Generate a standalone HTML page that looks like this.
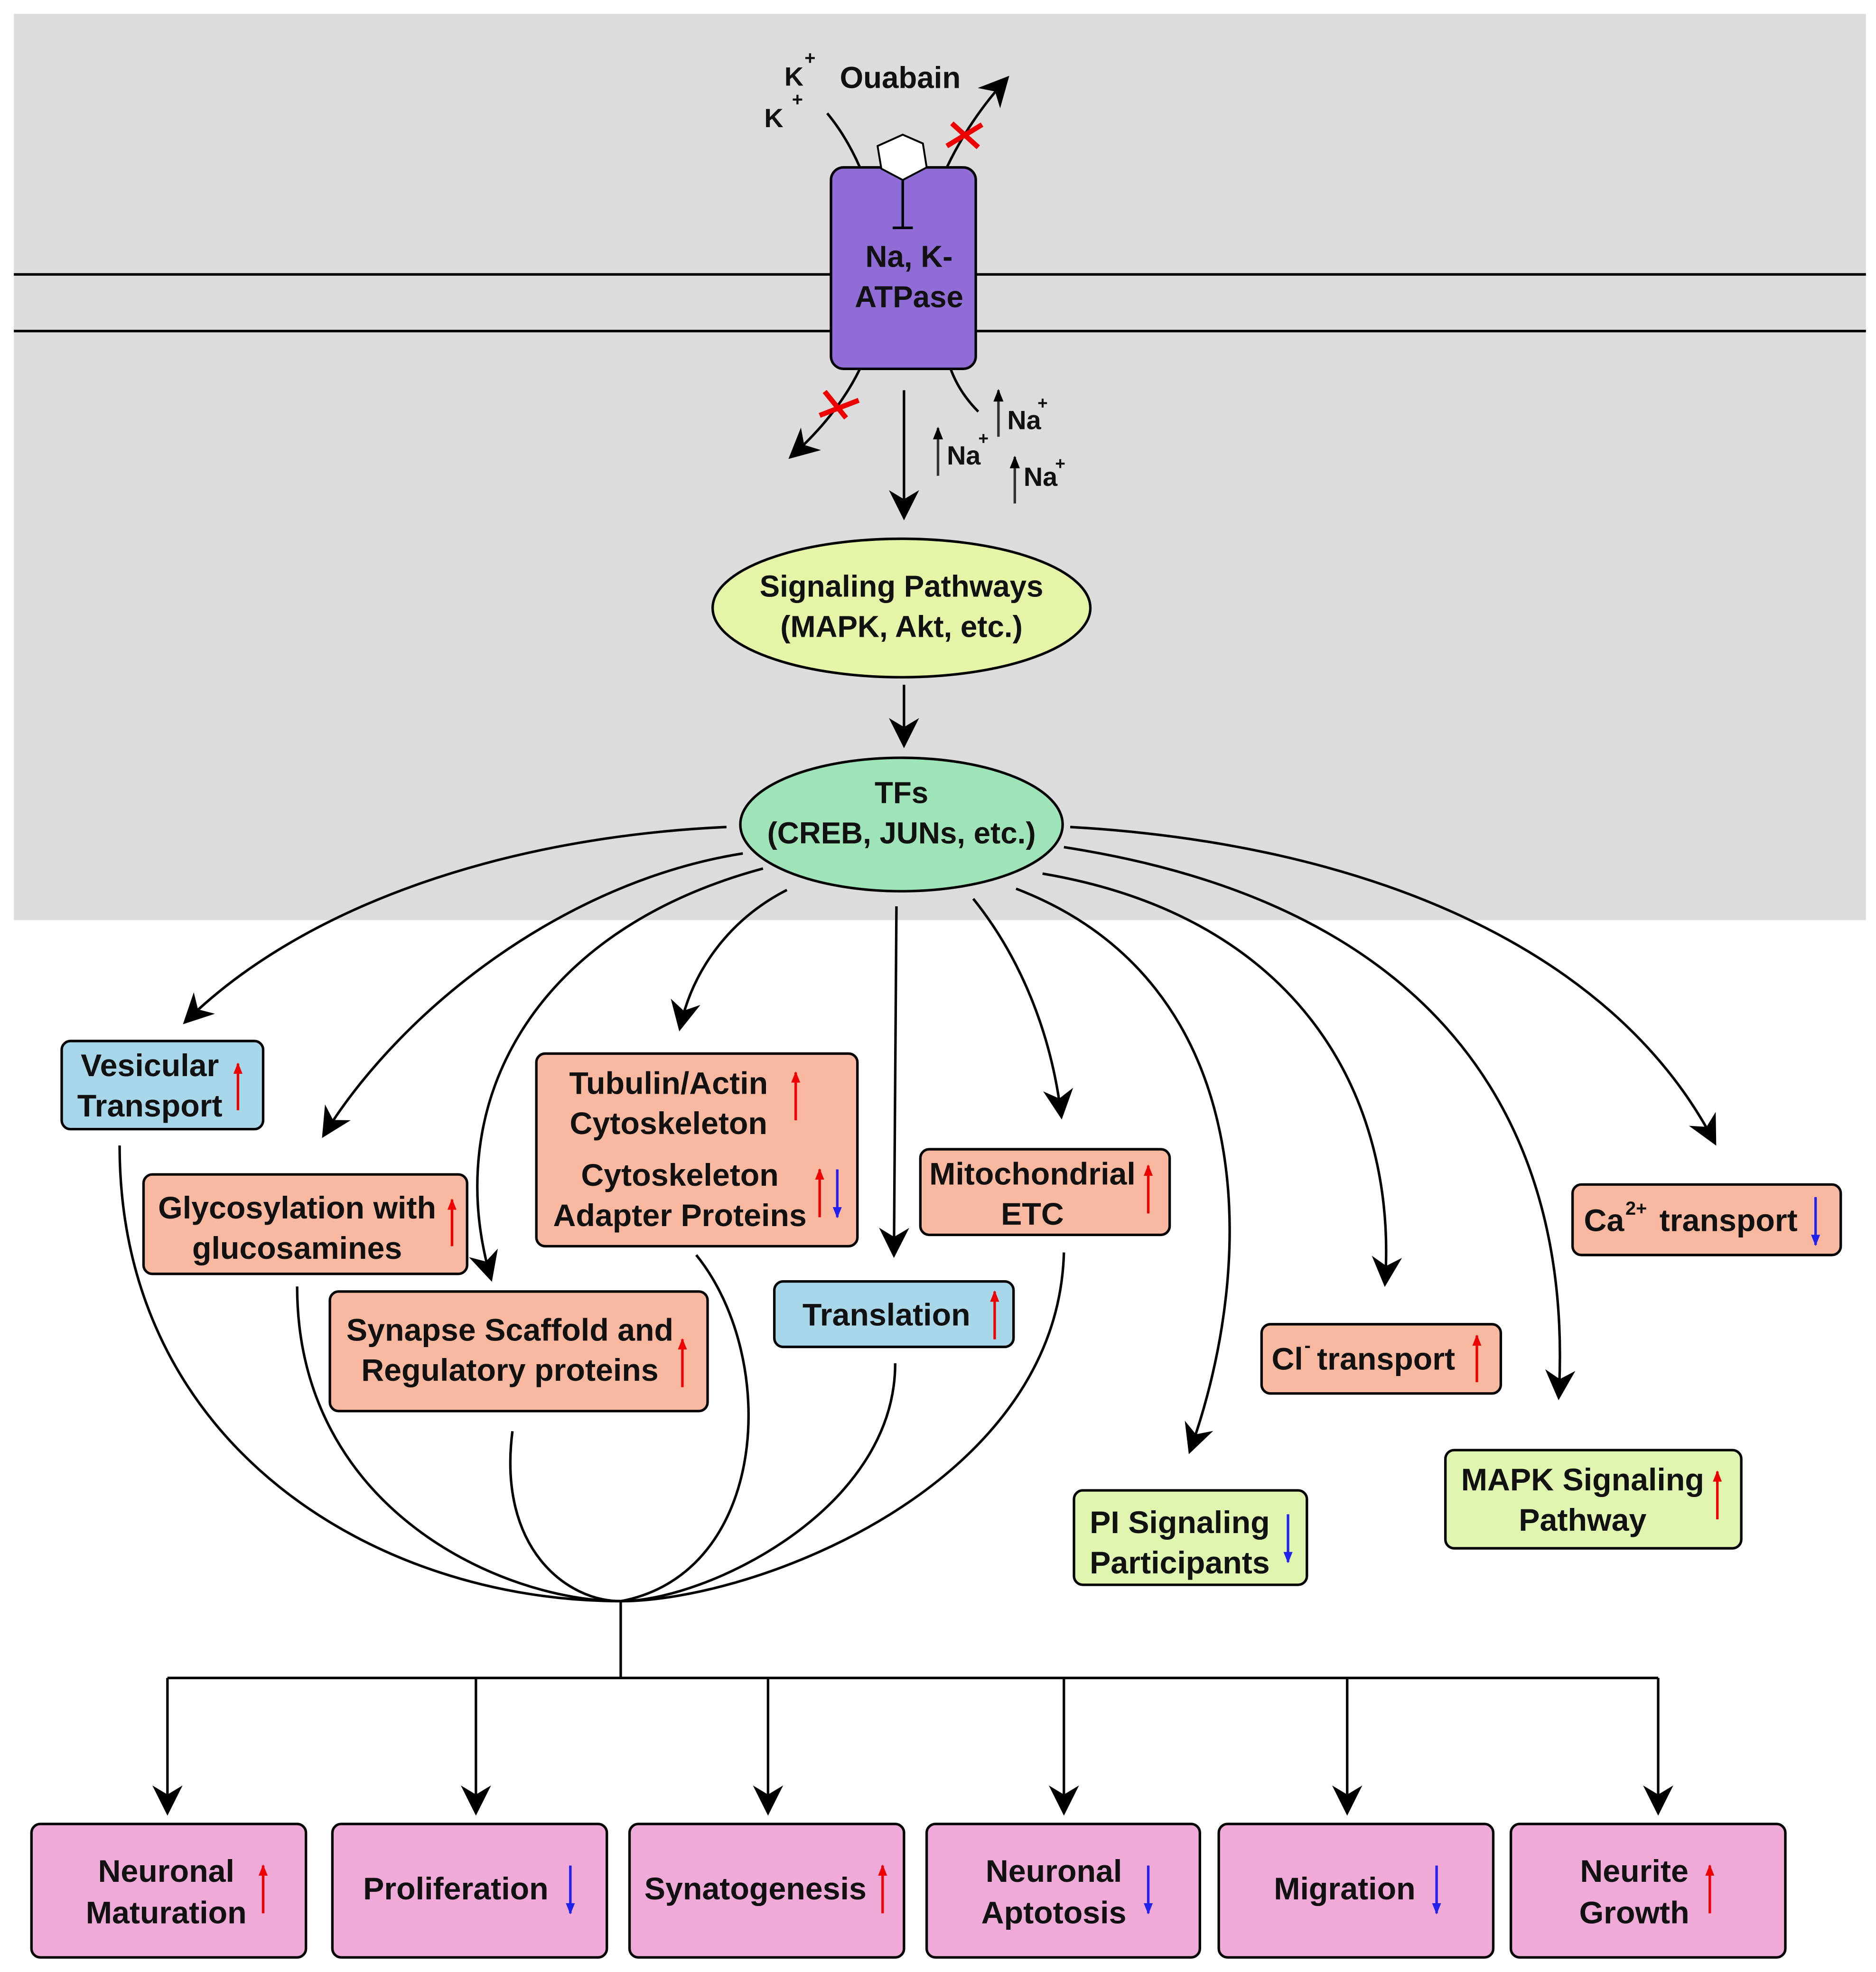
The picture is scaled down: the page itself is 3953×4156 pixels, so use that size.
<!DOCTYPE html>
<html><head><meta charset="utf-8"><style>
html,body{margin:0;padding:0;background:#fff;}
svg{display:block;}
text{font-family:"Liberation Sans",Arial,sans-serif;font-weight:bold;fill:#111;}
</style></head><body>
<svg width="3953" height="4156" viewBox="0 0 1490 1566.6" preserveAspectRatio="none" xmlns="http://www.w3.org/2000/svg">
<defs>
<marker id="ah2" viewBox="0 0 10 10" refX="9" refY="5" markerWidth="24" markerHeight="24" orient="auto" markerUnits="userSpaceOnUse">
<path d="M0,0 L10,5 L0,10 L3,5 z" fill="#000"/></marker>
<marker id="sm" viewBox="0 0 10 10" refX="9" refY="5" markerWidth="10" markerHeight="10" orient="auto" markerUnits="userSpaceOnUse">
<path d="M0,1 L10,5 L0,9 z" fill="#000"/></marker>
<marker id="r" viewBox="0 0 10 10" refX="9" refY="5" markerWidth="9" markerHeight="9" orient="auto" markerUnits="userSpaceOnUse">
<path d="M0,1 L10,5 L0,9 z" fill="#e00"/></marker>
<marker id="b" viewBox="0 0 10 10" refX="9" refY="5" markerWidth="9" markerHeight="9" orient="auto" markerUnits="userSpaceOnUse">
<path d="M0,1 L10,5 L0,9 z" fill="#22e"/></marker>
</defs>
<rect x="0" y="0" width="1490" height="1567" fill="#fff"/>
<rect x="11" y="11" width="1471" height="720" fill="#dcdcdc"/>
<line x1="11" y1="218" x2="1482" y2="218" stroke="#000" stroke-width="2"/>
<line x1="11" y1="263" x2="1482" y2="263" stroke="#000" stroke-width="2"/>
<g fill="none" stroke="#000" stroke-width="2">
<path d="M657,90 Q672,108 683,133"/>
<path d="M752,133 Q770,95 800,62" marker-end="url(#ah2)"/>
<path d="M683,293 Q665,330 628,363" marker-end="url(#ah2)"/>
<path d="M755,293 Q762,312 777,327"/>
</g>
<rect x="660" y="133" width="115" height="160" rx="10" fill="#8f6cd6" stroke="#000" stroke-width="2"/>
<polygon points="717,107 733,114 736,133 717,143 700,134 697,116" fill="#fff" stroke="#000" stroke-width="1.5"/>
<line x1="717" y1="143" x2="717" y2="181" stroke="#000" stroke-width="2"/>
<line x1="709" y1="181" x2="725" y2="181" stroke="#000" stroke-width="2"/>
<text x="722" y="212" font-size="24" text-anchor="middle">Na, K-</text>
<text x="722" y="244" font-size="24" text-anchor="middle">ATPase</text>
<text x="715" y="70" font-size="24" text-anchor="middle">Ouabain</text>
<text x="623" y="68" font-size="21">K</text><text x="639" y="51" font-size="15">+</text>
<text x="607" y="101" font-size="21">K</text><text x="629" y="84" font-size="15">+</text>
<g stroke="#e00" stroke-width="4">
<line x1="756" y1="98" x2="777" y2="117"/><line x1="752" y1="116" x2="780" y2="99"/>
<line x1="655" y1="311" x2="672" y2="332"/><line x1="651" y1="330" x2="682" y2="318"/>
</g>
<g stroke="#333" stroke-width="2" fill="none">
<line x1="793" y1="347" x2="793" y2="310" marker-end="url(#sm)"/>
<line x1="745" y1="378" x2="745" y2="340" marker-end="url(#sm)"/>
<line x1="806" y1="400" x2="806" y2="363" marker-end="url(#sm)"/>
</g>
<text x="800" y="341" font-size="21">Na</text><text x="824" y="325" font-size="14">+</text>
<text x="752" y="369" font-size="21">Na</text><text x="777" y="353" font-size="14">+</text>
<text x="813" y="386" font-size="21">Na</text><text x="838" y="373" font-size="14">+</text>
<line x1="718" y1="310" x2="718" y2="411" stroke="#000" stroke-width="2" marker-end="url(#ah2)"/>
<ellipse cx="716" cy="483" rx="150" ry="55" fill="#e5f5a8" stroke="#000" stroke-width="2"/>
<text x="716" y="474" font-size="24" text-anchor="middle">Signaling Pathways</text>
<text x="716" y="506" font-size="24" text-anchor="middle">(MAPK, Akt, etc.)</text>
<line x1="718" y1="544" x2="718" y2="592" stroke="#000" stroke-width="2" marker-end="url(#ah2)"/>
<ellipse cx="716" cy="655" rx="128" ry="53" fill="#9fe3b8" stroke="#000" stroke-width="2"/>
<text x="716" y="638" font-size="24" text-anchor="middle">TFs</text>
<text x="716" y="670" font-size="24" text-anchor="middle">(CREB, JUNs, etc.)</text>
<g fill="none" stroke="#000" stroke-width="2">
<path d="M577,657 C400,665 240,720 147,812" marker-end="url(#ah2)"/>
<path d="M590,678 C450,700 320,800 257,902" marker-end="url(#ah2)"/>
<path d="M606,690 C420,740 350,880 390,1016" marker-end="url(#ah2)"/>
<path d="M625,707 C580,730 550,770 540,817" marker-end="url(#ah2)"/>
<path d="M712,720 L710,997" marker-end="url(#ah2)"/>
<path d="M773,714 C810,760 835,820 843,887" marker-end="url(#ah2)"/>
<path d="M807,706 C1000,780 1000,1000 945,1153" marker-end="url(#ah2)"/>
<path d="M828,694 C1040,730 1110,880 1100,1020" marker-end="url(#ah2)"/>
<path d="M845,673 C1150,720 1250,900 1238,1110" marker-end="url(#ah2)"/>
<path d="M850,657 C1080,670 1280,750 1362,908" marker-end="url(#ah2)"/>
<path d="M95,910 C95,1150 300,1272 493,1272"/>
<path d="M236,1022 C236,1200 400,1272 493,1272"/>
<path d="M407,1137 C395,1230 450,1272 493,1272"/>
<path d="M553,997 C620,1080 610,1250 493,1272"/>
<path d="M711,1083 C711,1200 560,1272 493,1272"/>
<path d="M845,995 C840,1180 600,1272 493,1272"/>
<path d="M493,1272 L493,1333"/>
<path d="M133,1333 L1317,1333"/>
<path d="M133,1333 L133,1440" marker-end="url(#ah2)"/>
<path d="M378,1333 L378,1440" marker-end="url(#ah2)"/>
<path d="M610,1333 L610,1440" marker-end="url(#ah2)"/>
<path d="M845,1333 L845,1440" marker-end="url(#ah2)"/>
<path d="M1070,1333 L1070,1440" marker-end="url(#ah2)"/>
<path d="M1317,1333 L1317,1440" marker-end="url(#ah2)"/>
</g>
<g stroke="#000" stroke-width="2">
<rect x="49" y="827" width="160" height="70" rx="7" fill="#a9d7ea"/>
<rect x="114" y="933" width="257" height="79" rx="7" fill="#f9b9a0"/>
<rect x="262" y="1026" width="300" height="95" rx="7" fill="#f9b9a0"/>
<rect x="426" y="837" width="255" height="153" rx="7" fill="#f9b9a0"/>
<rect x="615" y="1018" width="190" height="52" rx="7" fill="#a9d7ea"/>
<rect x="731" y="913" width="198" height="68" rx="7" fill="#f9b9a0"/>
<rect x="1002" y="1052" width="190" height="55" rx="7" fill="#f9b9a0"/>
<rect x="1249" y="941" width="213" height="56" rx="7" fill="#f9b9a0"/>
<rect x="853" y="1184" width="185" height="75" rx="7" fill="#dff5b0"/>
<rect x="1148" y="1152" width="235" height="78" rx="7" fill="#dff5b0"/>
<rect x="25" y="1449" width="218" height="106" rx="7" fill="#f0aad8"/>
<rect x="264" y="1449" width="218" height="106" rx="7" fill="#f0aad8"/>
<rect x="500" y="1449" width="218" height="106" rx="7" fill="#f0aad8"/>
<rect x="736" y="1449" width="217" height="106" rx="7" fill="#f0aad8"/>
<rect x="968" y="1449" width="218" height="106" rx="7" fill="#f0aad8"/>
<rect x="1200" y="1449" width="218" height="106" rx="7" fill="#f0aad8"/>
</g>
<g font-size="25">
<text x="119" y="855" text-anchor="middle">Vesicular</text>
<text x="119" y="887" text-anchor="middle">Transport</text>
<text x="236" y="968" text-anchor="middle">Glycosylation with</text>
<text x="236" y="1000" text-anchor="middle">glucosamines</text>
<text x="405" y="1065" text-anchor="middle">Synapse Scaffold and</text>
<text x="405" y="1097" text-anchor="middle">Regulatory proteins</text>
<text x="531" y="869" text-anchor="middle">Tubulin/Actin</text>
<text x="531" y="901" text-anchor="middle">Cytoskeleton</text>
<text x="540" y="942" text-anchor="middle">Cytoskeleton</text>
<text x="540" y="974" text-anchor="middle">Adapter Proteins</text>
<text x="704" y="1053" text-anchor="middle">Translation</text>
<text x="820" y="941" text-anchor="middle">Mitochondrial</text>
<text x="820" y="973" text-anchor="middle">ETC</text>
<text x="1010" y="1088">Cl</text><text x="1036" y="1074" font-size="15">-</text><text x="1046" y="1088">transport</text>
<text x="1258" y="978">Ca</text><text x="1291" y="965" font-size="15">2+</text><text x="1318" y="978">transport</text>
<text x="937" y="1218" text-anchor="middle">PI Signaling</text>
<text x="937" y="1250" text-anchor="middle">Participants</text>
<text x="1257" y="1184" text-anchor="middle">MAPK Signaling</text>
<text x="1257" y="1216" text-anchor="middle">Pathway</text>
<text x="132" y="1495" text-anchor="middle">Neuronal</text>
<text x="132" y="1528" text-anchor="middle">Maturation</text>
<text x="362" y="1509" text-anchor="middle">Proliferation</text>
<text x="600" y="1509" text-anchor="middle">Synatogenesis</text>
<text x="837" y="1495" text-anchor="middle">Neuronal</text>
<text x="837" y="1528" text-anchor="middle">Aptotosis</text>
<text x="1068" y="1509" text-anchor="middle">Migration</text>
<text x="1298" y="1495" text-anchor="middle">Neurite</text>
<text x="1298" y="1528" text-anchor="middle">Growth</text>
</g>
<g stroke-width="2">
<line x1="189" y1="882" x2="189" y2="845" stroke="#e00" marker-end="url(#r)"/>
<line x1="359" y1="990" x2="359" y2="953" stroke="#e00" marker-end="url(#r)"/>
<line x1="542" y1="1102" x2="542" y2="1064" stroke="#e00" marker-end="url(#r)"/>
<line x1="632" y1="890" x2="632" y2="852" stroke="#e00" marker-end="url(#r)"/>
<line x1="651" y1="967" x2="651" y2="929" stroke="#e00" marker-end="url(#r)"/>
<line x1="665" y1="929" x2="665" y2="967" stroke="#22e" marker-end="url(#b)"/>
<line x1="790" y1="1064" x2="790" y2="1026" stroke="#e00" marker-end="url(#r)"/>
<line x1="912" y1="964" x2="912" y2="926" stroke="#e00" marker-end="url(#r)"/>
<line x1="1173" y1="1098" x2="1173" y2="1061" stroke="#e00" marker-end="url(#r)"/>
<line x1="1442" y1="951" x2="1442" y2="989" stroke="#22e" marker-end="url(#b)"/>
<line x1="1023" y1="1203" x2="1023" y2="1241" stroke="#22e" marker-end="url(#b)"/>
<line x1="1364" y1="1207" x2="1364" y2="1169" stroke="#e00" marker-end="url(#r)"/>
<line x1="209" y1="1520" x2="209" y2="1482" stroke="#e00" marker-end="url(#r)"/>
<line x1="453" y1="1482" x2="453" y2="1520" stroke="#22e" marker-end="url(#b)"/>
<line x1="701" y1="1520" x2="701" y2="1482" stroke="#e00" marker-end="url(#r)"/>
<line x1="912" y1="1482" x2="912" y2="1520" stroke="#22e" marker-end="url(#b)"/>
<line x1="1141" y1="1482" x2="1141" y2="1520" stroke="#22e" marker-end="url(#b)"/>
<line x1="1358" y1="1520" x2="1358" y2="1482" stroke="#e00" marker-end="url(#r)"/>
</g>
</svg>
</body></html>
